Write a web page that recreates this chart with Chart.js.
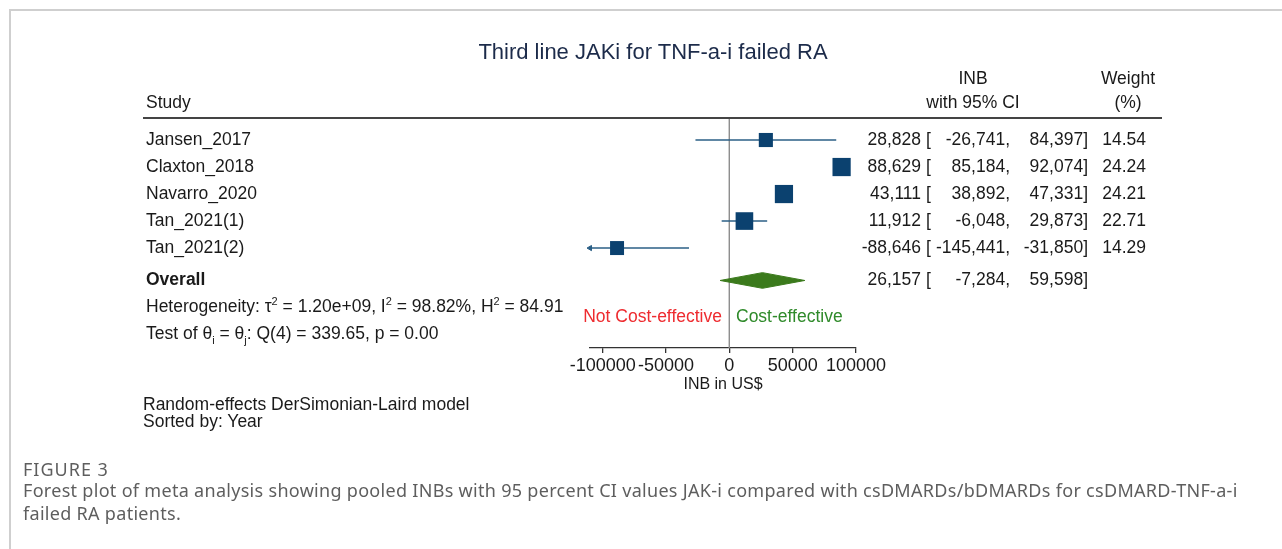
<!DOCTYPE html>
<html>
<head>
<meta charset="utf-8">
<script src="https://cdn.jsdelivr.net/npm/chart.js@4.4.1/dist/chart.umd.min.js"></script>
<style>
  body { margin: 0; background: #fff; }
  #page { position: relative; width: 1282px; height: 549px; overflow: hidden; background: #fff;
          font-family: "Liberation Sans", Arial, sans-serif; color: #1a1a1a; }
  #chart { position: absolute; left: 0; top: 0; }
  .t { position: absolute; white-space: nowrap; font-size: 17.5px; line-height: 1; }
  .frameTop { position: absolute; left: 9px; top: 9px; width: 1273px; height: 2px; background: #cfcfcf; }
  .frameLeft { position: absolute; left: 9px; top: 9px; width: 2px; height: 540px; background: #cfcfcf; }
  .sep { position: absolute; left: 143px; top: 117px; width: 1019px; height: 2px; background: #444; }
  sup, sub { font-size: 11px; line-height: 0; }
  .cap { font-family: "Noto Sans", "Open Sans", sans-serif; color: #5e5e5e; letter-spacing: 0.3px; }
</style>
</head>
<body>
<div id="page">
  <div class="frameTop"></div>
  <div class="frameLeft"></div>
  <canvas id="chart" width="1282" height="549"></canvas>
  <div class="sep"></div>
</div>
<script>
const studies = ['Jansen_2017', 'Claxton_2018', 'Navarro_2020', 'Tan_2021(1)', 'Tan_2021(2)'];
const inb = [28828, 88629, 43111, 11912, -88646];
const ciLow = [-26741, 85184, 38892, -6048, -145441];
const ciHigh = [84397, 92074, 47331, 29873, -31850];
const weights = [14.54, 24.24, 24.21, 22.71, 14.29];

const overallInb = 26157;
const overallLow = -7284;
const overallHigh = 59598;

const xTicks = [-100000, -50000, 0, 50000, 100000];
const xMin = -110000;
const xMax = 100000;

const rows = [1, 2, 3, 4, 5];
const overallRow = 6.2;
const yMin = 0.185;
const yMax = 8.7;

const page = document.getElementById('page');

function addText(html, x, y, opts = {}) {
    const el = document.createElement('div');
    el.className = 't' + (opts.cls ? ' ' + opts.cls : '');
    el.innerHTML = html;
    el.style.left = x + 'px';
    el.style.top = y + 'px';
    let tx = '0';
    if (opts.align === 'right') tx = '-100%';
    if (opts.align === 'center') tx = '-50%';
    el.style.transform = `translate(${tx}, -50%)`;
    if (opts.size) el.style.fontSize = opts.size + 'px';
    if (opts.color) el.style.color = opts.color;
    if (opts.bold) el.style.fontWeight = 'bold';
    if (opts.spacing) el.style.letterSpacing = opts.spacing + 'px';
    page.appendChild(el);
    return el;
}

const fmt = v => v.toLocaleString('en-US');

// title and headers
addText('Third line JAKi for TNF-a-i failed RA', 653, 52, { align: 'center', size: 22, color: '#1c2b4a' });
addText('Study', 146, 103);
addText('INB', 973, 79, { align: 'center' });
addText('with 95% CI', 973, 103, { align: 'center' });
addText('Weight', 1128, 79, { align: 'center' });
addText('(%)', 1128, 103, { align: 'center' });

// study rows
const rowY = r => 140 + (r - 1) * 27;
function numberRow(y, est, lo, hi) {
    addText(fmt(est), 921, y, { align: 'right' });
    addText('[', 926, y);
    addText(fmt(lo) + ',', 1010, y, { align: 'right' });
    addText(fmt(hi) + ']', 1088, y, { align: 'right' });
}
studies.forEach((s, i) => {
    const y = rowY(rows[i]);
    addText(s, 146, y);
    numberRow(y, inb[i], ciLow[i], ciHigh[i]);
    addText(weights[i].toFixed(2), 1146, y, { align: 'right' });
});

const oy = 280;
addText('Overall', 146, oy, { bold: true });
numberRow(oy, overallInb, overallLow, overallHigh);

addText('Heterogeneity: τ<sup>2</sup> = 1.20e+09, I<sup>2</sup> = 98.82%, H<sup>2</sup> = 84.91', 146, 307);
addText('Test of θ<sub>i</sub> = θ<sub>j</sub>: Q(4) = 339.65, p = 0.00', 146, 334);

addText('Not Cost-effective', 722, 317, { align: 'right', color: '#ee2b2f' });
addText('Cost-effective', 736, 317, { color: '#2f8a2a' });

addText('Random-effects DerSimonian-Laird model', 143, 405);
addText('Sorted by: Year', 143, 422);

// caption
addText('FIGURE 3', 23, 469, { cls: 'cap', size: 18, spacing: 1 });
addText('Forest plot of meta analysis showing pooled INBs with 95 percent CI values JAK-i compared with csDMARDs/bDMARDs for csDMARD-TNF-a-i', 23, 490, { cls: 'cap', size: 18 });
addText('failed RA patients.', 23, 513, { cls: 'cap', size: 18 });

// datasets
const lineColor = '#2b5f86';
const boxColor = '#0b416f';
const diamondColor = '#3b7a1c';
const boxSide = w => 3.7 * Math.sqrt(w);

const datasets = [];

datasets.push({
    label: 'studies',
    data: studies.map((s, i) => ({ x: inb[i], y: rows[i] })),
    pointStyle: 'rect',
    pointRadius: ctx => boxSide(weights[ctx.dataIndex]) / Math.SQRT2,
    backgroundColor: boxColor,
    borderColor: boxColor,
    borderWidth: 0,
    showLine: false,
    order: 0
});

const dh = 0.29;
datasets.push({
    label: 'overall',
    data: [
        { x: overallLow, y: overallRow },
        { x: overallInb, y: overallRow - dh },
        { x: overallHigh, y: overallRow },
        { x: overallInb, y: overallRow + dh },
        { x: overallLow, y: overallRow }
    ],
    showLine: true,
    fill: 'shape',
    backgroundColor: diamondColor,
    borderColor: diamondColor,
    borderWidth: 1,
    pointRadius: 0,
    tension: 0,
    order: 1
});

studies.forEach((s, i) => {
    datasets.push({
        label: 'ci ' + s,
        data: [{ x: ciLow[i], y: rows[i] }, { x: ciHigh[i], y: rows[i] }],
        showLine: true,
        borderColor: lineColor,
        borderWidth: 1.4,
        pointRadius: 0,
        order: 2
    });
});

const arrowRows = rows.filter((r, i) => ciLow[i] < xMin);
datasets.push({
    label: 'arrows',
    data: arrowRows.map(r => ({ x: xMin, y: r })),
    pointStyle: 'triangle',
    rotation: -90,
    pointRadius: 3,
    backgroundColor: lineColor,
    borderColor: lineColor,
    borderWidth: 1,
    showLine: false,
    clip: false,
    order: 2
});

datasets.push({
    label: 'zero',
    data: [{ x: 0, y: yMin }, { x: 0, y: yMax }],
    showLine: true,
    borderColor: '#8e8e8e',
    borderWidth: 1,
    pointRadius: 0,
    order: 3
});

new Chart(document.getElementById('chart'), {
    type: 'scatter',
    data: { datasets },
    options: {
        responsive: false,
        animation: false,
        devicePixelRatio: 1,
        layout: { padding: { left: 590, right: 426, top: 118, bottom: 151 } },
        plugins: { legend: { display: false }, tooltip: { enabled: false } },
        scales: {
            x: {
                type: 'linear',
                min: xMin,
                max: xMax,
                afterBuildTicks: s => { s.ticks = xTicks.map(v => ({ value: v })); },
                afterFit: s => { s.height = 50; },
                border: { display: true, color: '#333', width: 1.3 },
                grid: { drawOnChartArea: false, drawTicks: true, tickLength: 5, color: '#333', lineWidth: 1.3 },
                ticks: {
                    autoSkip: false,
                    maxRotation: 0,
                    padding: 2,
                    color: '#1a1a1a',
                    font: { family: '"Liberation Sans", Arial, sans-serif', size: 18 },
                    callback: v => String(v)
                },
                title: {
                    display: true,
                    text: 'INB in US$',
                    color: '#1a1a1a',
                    padding: { top: 0, bottom: 4 },
                    font: { family: '"Liberation Sans", Arial, sans-serif', size: 16 }
                }
            },
            y: {
                type: 'linear',
                display: false,
                reverse: true,
                min: yMin,
                max: yMax
            }
        }
    }
});
</script>
</body>
</html>
